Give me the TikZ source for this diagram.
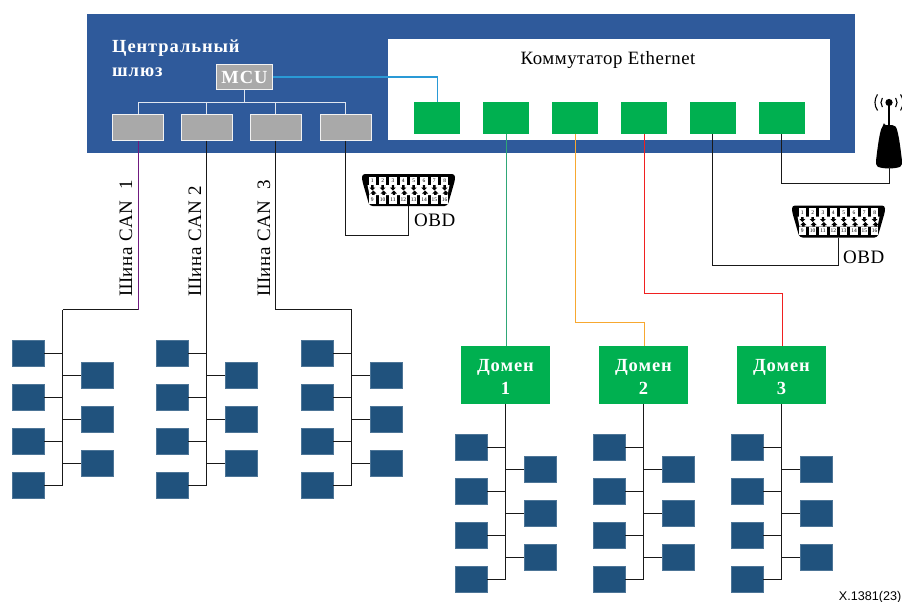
\documentclass[tikz,border=0pt]{standalone}
\usepackage{fontspec}
\setmainfont{Liberation Serif}
\newfontfamily\spaced[LetterSpace=3]{Liberation Serif}
\newfontfamily\spacedb[LetterSpace=5,BoldFont={Liberation Serif Bold}]{Liberation Serif}
\newfontfamily\helv{Liberation Sans}
\definecolor{gwblue}{HTML}{2F5A9B}
\definecolor{ecublue}{HTML}{20527D}
\definecolor{portgreen}{HTML}{00B050}
\definecolor{mcugray}{HTML}{A9A9A9}
\definecolor{linkblue}{HTML}{2A9AD6}
\definecolor{linkteal}{HTML}{2FA777}
\definecolor{linkorange}{HTML}{F7A830}
\definecolor{linkred}{HTML}{F02020}
\definecolor{linkpurple}{HTML}{701A80}
\tikzset{
  ecu/.style={draw=ecublue!80!white,line width=.5pt,fill=ecublue,minimum width=32pt,minimum height=26pt,inner sep=0pt},
  ethport/.style={fill=portgreen,minimum width=46pt,minimum height=32pt,inner sep=0pt},
  canport/.style={draw=white!90!gray,line width=1pt,fill=mcugray,minimum width=51pt,minimum height=26pt,inner sep=0pt},
  domainbox/.style={fill=portgreen,minimum width=89pt,minimum height=58pt,inner sep=0pt,align=center,text=white,font=\fontsize{18.5}{23}\spacedb\bfseries},
  wire/.style={line width=1.2pt,black!90},
  linkline/.style={line width=1pt},
  busline/.style={line width=1pt,white!85!gwblue},
  canlabel/.style={rotate=90,anchor=base west,font=\fontsize{19}{19}\spaced,inner sep=0pt},
  obdtext/.style={font=\fontsize{19}{19}\spaced,inner sep=0pt,anchor=west},
  gwtext/.style={anchor=base west,inner sep=0pt,text=white,font=\fontsize{18.5}{19}\spacedb\bfseries}
}
\newcommand{\ecugroup}[4]{% prefix, x of left boxes' left edge, y of first left box top, trunk node
  \foreach \i/\yy in {1/0,2/44,3/88,4/132}{
    \node[ecu] (#1l\i) at (#2+16,#3+13+\yy) {};
  }
  \foreach \i/\yy in {1/22,2/66,3/110}{
    \node[ecu] (#1r\i) at (#2+85,#3+13+\yy) {};
  }
  \coordinate (#1end) at (#2+50.5,#3+13+132);
  \draw[wire] (#4) |- (#1l4.east);
  \foreach \i in {1,2,3}{\draw[wire] (#1l\i.east) -- (#1l\i.east -| #1end);}
  \foreach \i in {1,2,3}{\draw[wire] (#1r\i.west) -- (#1r\i.west -| #1end);}
}
\newcommand{\obdconn}[2]{% name, centre
  \begin{scope}[shift={(#2)}]
    \node[inner sep=0pt,minimum size=0pt] (#1) at (0,0) {};
    \coordinate (#1s) at (0,16);
    \fill[black,rounded corners=3pt] (-46.5,-16) -- (46.5,-16) -- (46.5,-10) -- (39,16) -- (-39,16) -- (-46.5,-10) -- cycle;
    \fill[white] (-41,-5) -- (41,-5) -- (39,5) -- (-39,5) -- cycle;
    \foreach \i in {1,...,8}{
      \pgfmathsetmacro\xx{-36.2+(\i-1)*10.34}
      \fill[black] (\xx-1.2,-5) -- (\xx+1.2,-5) -- (\xx+1.2,-2.5) -- (\xx+3,-2.5) -- (\xx,0.5) -- (\xx-3,-2.5) -- (\xx-1.2,-2.5) -- cycle;
      \node[fill=white,inner sep=0pt,minimum width=7.6pt,minimum height=8.5pt,font=\fontsize{5.5}{5.5}\selectfont] at (\xx,-9) {\i};
      \pgfmathsetmacro\xb{-36.2+(\i-1)*10.34+1}
      \pgfmathtruncatemacro\nn{\i+8}
      \fill[black] (\xb-1.2,5) -- (\xb+1.2,5) -- (\xb+1.2,3.5) -- (\xb+3,3.5) -- (\xb,0.5) -- (\xb-3,3.5) -- (\xb-1.2,3.5) -- cycle;
      \node[fill=white,inner sep=0pt,minimum width=7.6pt,minimum height=8.5pt,font=\fontsize{5.5}{5.5}\selectfont] at (\xb-1,9.3) {\nn};
    }
  \end{scope}
}
\begin{document}
\begin{tikzpicture}[x=1pt,y=-1pt]
\useasboundingbox (0,0) rectangle (902,602);
% gateway
\fill[gwblue] (87,14) rectangle (855,153);
\fill[white] (388,39) rectangle (830,140);
\node[gwtext] (gwa) at (112,52.5) {Центральный};
\node[gwtext] (gwb) at (112,76.5) {шлюз};
\node[anchor=base,inner sep=0pt,font=\fontsize{18.8}{19}\spaced] (sw) at (608,65) {Коммутатор Ethernet};
% MCU and CAN ports
\node[draw=white!90!gray,line width=1pt,fill=mcugray,minimum width=56pt,minimum height=25pt,inner sep=0pt,text=white,font=\fontsize{18.5}{19}\spacedb\bfseries] (mcu) at (244.5,77) {MCU};
\node[canport] (c1) at (138,127) {};
\node[canport] (c2) at (206.5,127) {};
\node[canport] (c3) at (275.5,127) {};
\node[canport] (c4) at (345.5,127) {};
\coordinate (busy) at (244.5,102.5);
\draw[busline] (mcu.south) -- (busy);
\draw[busline] (c1.north) |- (busy) -| (c4.north);
\draw[busline] (c2.north) -- (c2.north |- busy);
\draw[busline] (c3.north) -- (c3.north |- busy);
% Ethernet ports
\foreach \n/\x in {1/437,2/506,3/575,4/644,5/712.5,6/781.5}{\node[ethport] (p\n) at (\x,118) {};}
\draw[linkblue,linkline] (mcu.east) -| (p1.north);
% CAN clusters
\coordinate (t1) at (62.5,309.5);
\coordinate (t3) at (351.5,309.5);
\draw[wire] (c1.south |- t1) -- (t1);
\draw[linkpurple,linkline] (c1.south) -- (c1.south |- t1);
\draw[wire] (c3.south) |- (t3);
\ecugroup{a}{12}{340.5}{t1}
\ecugroup{b}{156}{340.5}{c2.south}
\ecugroup{c}{301}{340.5}{t3}
\node[canlabel] (lc1) at (132,297) {Шина CAN\ \ 1};
\node[canlabel] (lc2) at (201,297) {Шина CAN 2};
\node[canlabel] (lc3) at (270,297) {Шина CAN\ \ 3};
% domains
\node[domainbox] (d1) at (505.5,375) {\rule{0pt}{15.5pt}Домен\\1};
\node[domainbox] (d2) at (643.5,375) {\rule{0pt}{15.5pt}Домен\\2};
\node[domainbox] (d3) at (781.5,375) {\rule{0pt}{15.5pt}Домен\\3};
\draw[linkteal,linkline] (p2.south) -- (p2.south |- d1.north);
\coordinate (o1) at (644,322);
\coordinate (r1) at (782,293);
\draw[linkorange,linkline] (p3.south) |- (o1) -- (o1 |- d2.north);
\draw[linkred,linkline] (p4.south) |- (r1) -- (r1 |- d3.north);
\ecugroup{e}{455}{434.5}{d1.south}
\ecugroup{f}{593}{434.5}{d2.south}
\ecugroup{g}{731}{434.5}{d3.south}
% OBD connectors
\obdconn{obda}{408.5,190}
\obdconn{obdb}{838.5,221.5}
\node[obdtext] (ol1) at (414,220) {OBD};
\node[obdtext] (ol2) at (843,257) {OBD};
\draw[wire] (c4.south) |- (obdas |- 0,235.5) -- (obdas);
\draw[wire] (p5.south) |- (obdbs |- 0,265.5) -- (obdbs);
% antenna
\coordinate (ant) at (889.5,167);
\coordinate (antw) at (781.5,183.5);
\fill[black,rounded corners=2pt] (884,125) -- (894,125) .. controls (897,128) and (899,135) .. (902,161) -- (902,166) .. controls (895,169) and (883,169) .. (876,166) -- (876,161) .. controls (879,135) and (881,128) .. (884,125) -- cycle;
\draw[black,line width=1.6pt] (889,126) -- (889,104);
\fill[black] (889,102.5) circle (3.6);
\begin{scope}
\clip (862,85) rectangle (902,120);
\draw[black,line width=1.1pt] (882.4,107.1) arc (145:215:8);
\draw[black,line width=1.1pt] (877.5,110.5) arc (145:215:14);
\draw[black,line width=1.1pt] (895.6,107.1) arc (35:-35:8);
\draw[black,line width=1.1pt] (900.5,110.5) arc (35:-35:14);
\end{scope}
\draw[wire] (p6.south) |- (ant |- antw) -- (ant);
% reference
\node[anchor=east,inner sep=0pt,font=\fontsize{12.6}{13}\helv] (ref) at (901.5,597) {X.1381(23)};
\end{tikzpicture}
\end{document}
